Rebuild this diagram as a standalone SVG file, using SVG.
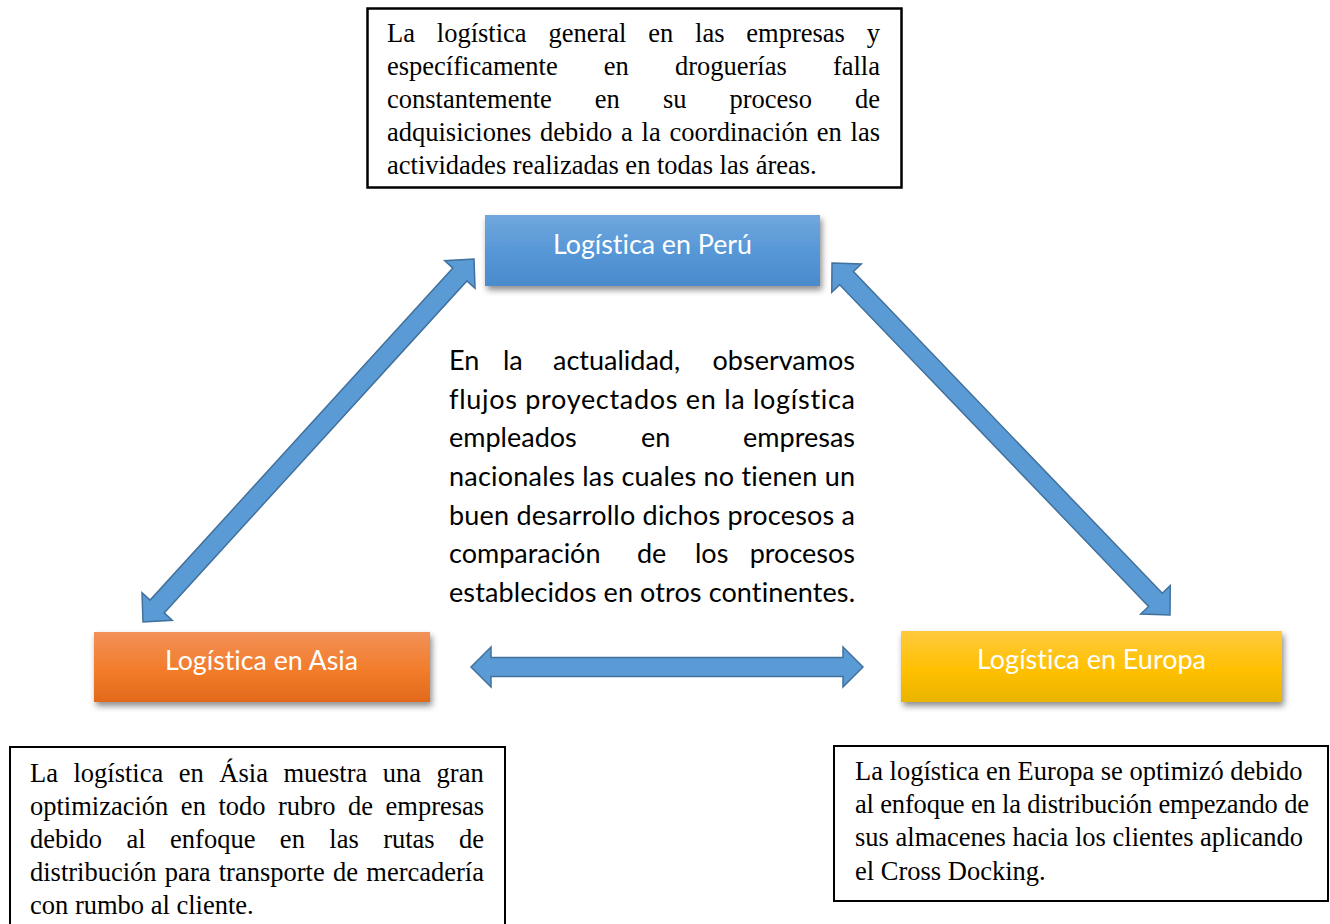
<svg xmlns="http://www.w3.org/2000/svg" width="1330" height="924" viewBox="0 0 1330 924">
<style>
.note{fill:#fff;stroke:#000;stroke-width:2.5}
.serif{font-family:"Liberation Serif","Times New Roman",serif;font-size:26.5px;fill:#000}
.sans{font-family:Lato,"Open Sans",sans-serif;font-size:27px;fill:#000;font-variant-ligatures:none;font-feature-settings:"liga" 0,"clig" 0}
.lbl{font-family:Lato,"Open Sans",sans-serif;font-size:27px;fill:#fff;text-anchor:middle;font-variant-ligatures:none;font-feature-settings:"liga" 0,"clig" 0}
.arrow{fill:#5b9bd5;stroke:#41719c;stroke-width:1.5;stroke-linejoin:miter}
</style>
<defs>
<linearGradient id="gBlue" x1="0" y1="0" x2="0" y2="1">
<stop offset="0" stop-color="#71a7dd"/><stop offset="0.55" stop-color="#5596d6"/><stop offset="1" stop-color="#4a8bcc"/>
</linearGradient>
<linearGradient id="gOrange" x1="0" y1="0" x2="0" y2="1">
<stop offset="0" stop-color="#f29158"/><stop offset="0.55" stop-color="#f27c2a"/><stop offset="1" stop-color="#e2691c"/>
</linearGradient>
<linearGradient id="gYellow" x1="0" y1="0" x2="0" y2="1">
<stop offset="0" stop-color="#ffca3f"/><stop offset="0.55" stop-color="#ffc000"/><stop offset="1" stop-color="#e9b400"/>
</linearGradient>
<filter id="shadow" x="-10%" y="-30%" width="125%" height="170%">
<feDropShadow dx="2" dy="4" stdDeviation="3" flood-color="#000" flood-opacity="0.45"/>
</filter>
</defs>

<g id="connectors">
<path class="arrow" transform="translate(143,622) rotate(-47.64)" d="M0,0 L21,-20.5 L21,-9.5 L470.3,-9.5 L470.3,-20.5 L491.3,0 L470.3,20.5 L470.3,9.5 L21,9.5 L21,20.5 Z"/>
<path class="arrow" transform="translate(832,263) rotate(46.16)" d="M0,0 L21,-20.5 L21,-9.5 L467,-9.5 L467,-20.5 L488,0 L467,20.5 L467,9.5 L21,9.5 L21,20.5 Z"/>
<path class="arrow" transform="translate(471,667)" d="M0,0 L20,-20 L20,-9.5 L372,-9.5 L372,-20 L392,0 L372,20 L372,9.5 L20,9.5 L20,20 Z"/>
</g>

<g id="note-top">
<rect class="note" x="367.5" y="8.5" width="534" height="179"/>
<text class="serif" x="387" y="42" word-spacing="15.2">La logística general en las empresas y</text>
<text class="serif" x="387" y="75" word-spacing="39.5">específicamente en droguerías falla</text>
<text class="serif" x="387" y="108" word-spacing="36.4">constantemente en su proceso de</text>
<text class="serif" x="387" y="141" word-spacing="2.2">adquisiciones debido a la coordinación en las</text>
<text class="serif" x="387" y="174">actividades realizadas en todas las áreas.</text>
</g>

<g id="node-peru">
<rect x="485" y="215" width="335" height="71" fill="url(#gBlue)" filter="url(#shadow)"/>
<text class="lbl" x="652.5" y="254" textLength="199" lengthAdjust="spacingAndGlyphs">Logística en Perú</text>
</g>

<g id="center-text">
<text class="sans" x="449" y="370">En</text>
<text class="sans" x="503" y="370">la</text>
<text class="sans" x="553" y="370">actualidad,</text>
<text class="sans" x="855" y="370" text-anchor="end">observamos</text>
<text class="sans" x="449" y="408.7" textLength="406" lengthAdjust="spacing">flujos proyectados en la logística</text>
<text class="sans" x="449" y="447.3">empleados</text>
<text class="sans" x="641" y="447.3">en</text>
<text class="sans" x="855" y="447.3" text-anchor="end">empresas</text>
<text class="sans" x="449" y="486" textLength="406" lengthAdjust="spacing">nacionales las cuales no tienen un</text>
<text class="sans" x="449" y="524.7" textLength="406" lengthAdjust="spacing">buen desarrollo dichos procesos a</text>
<text class="sans" x="449" y="563.3">comparación</text>
<text class="sans" x="637" y="563.3">de</text>
<text class="sans" x="695" y="563.3">los</text>
<text class="sans" x="855" y="563.3" text-anchor="end">procesos</text>
<text class="sans" x="449" y="602" textLength="406" lengthAdjust="spacing">establecidos en otros continentes.</text>
</g>

<g id="node-asia">
<rect x="94" y="632" width="336" height="70" fill="url(#gOrange)" filter="url(#shadow)"/>
<text class="lbl" x="261.5" y="670" textLength="193" lengthAdjust="spacingAndGlyphs">Logística en Asia</text>
</g>

<g id="node-europa">
<rect x="901" y="631" width="381" height="71" fill="url(#gYellow)" filter="url(#shadow)"/>
<text class="lbl" x="1091.5" y="669" textLength="229" lengthAdjust="spacingAndGlyphs">Logística en Europa</text>
</g>

<g id="note-asia">
<rect class="note" x="10" y="747" width="495" height="190" style="stroke-width:2"/>
<text class="serif" x="30" y="782" word-spacing="8.9">La logística en Ásia muestra una gran</text>
<text class="serif" x="30" y="815" word-spacing="5.9">optimización en todo rubro de empresas</text>
<text class="serif" x="30" y="848" word-spacing="17.8">debido al enfoque en las rutas de</text>
<text class="serif" x="30" y="881" word-spacing="1.65">distribución para transporte de mercadería</text>
<text class="serif" x="30" y="914">con rumbo al cliente.</text>
</g>

<g id="note-europa">
<rect class="note" x="834" y="746" width="494" height="155" style="stroke-width:2"/>
<text class="serif" x="855" y="780">La logística en Europa se optimizó debido</text>
<text class="serif" x="855" y="813" textLength="454" lengthAdjust="spacing">al enfoque en la distribución empezando de</text>
<text class="serif" x="855" y="846">sus almacenes hacia los clientes aplicando</text>
<text class="serif" x="855" y="880">el Cross Docking.</text>
</g>
</svg>
